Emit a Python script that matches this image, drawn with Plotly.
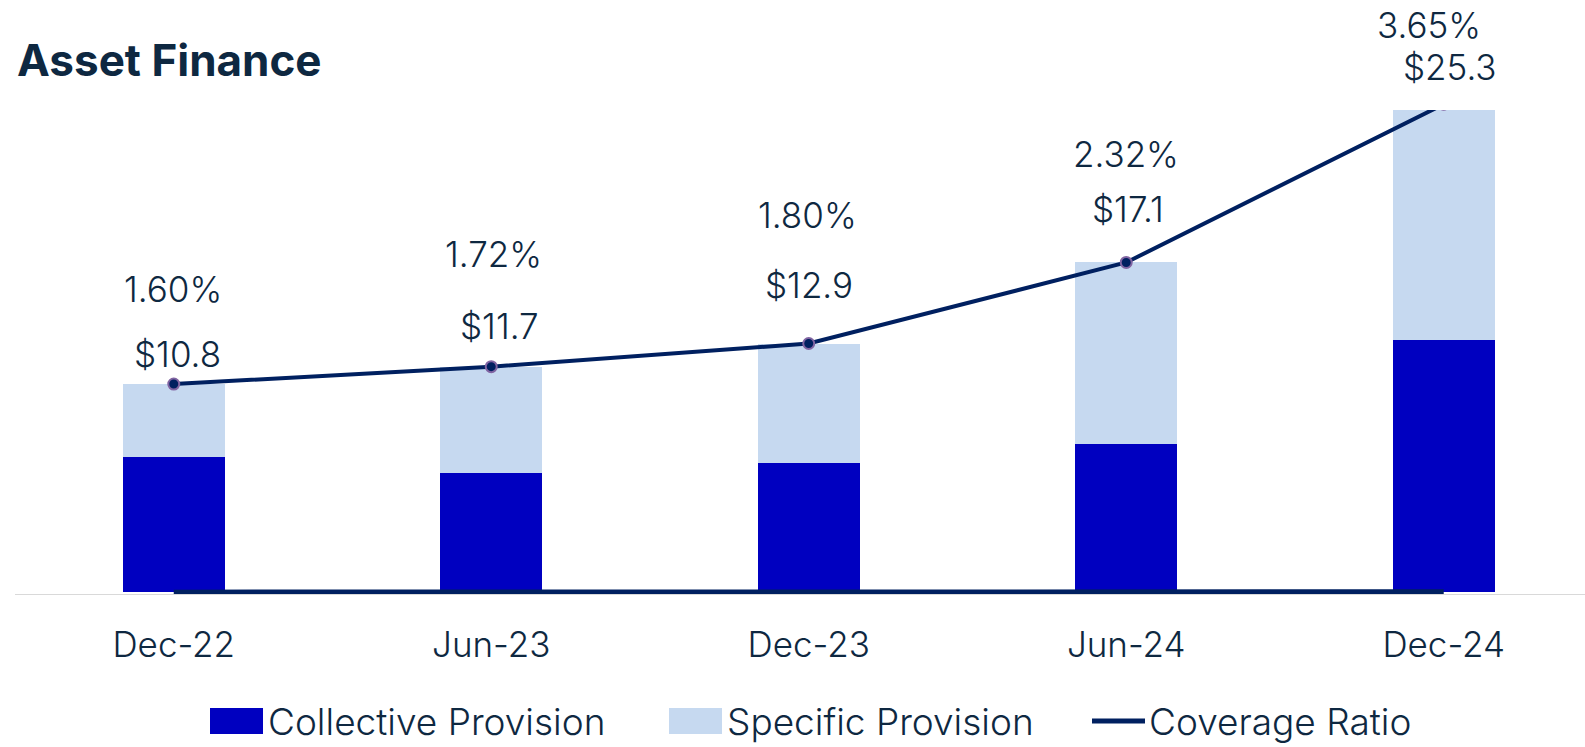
import plotly.graph_objects as go

categories = ["Dec-22", "Jun-23", "Dec-23", "Jun-24", "Dec-24"]
collective = [7.0, 6.2, 6.7, 7.7, 13.1]
specific = [3.8, 5.5, 6.2, 9.4, 12.2]
totals = [10.8, 11.7, 12.9, 17.1, 25.3]
coverage = [0.0160, 0.0172, 0.0180, 0.0232, 0.0365]
total_labels = ["$10.8", "$11.7", "$12.9", "$17.1", "$25.3"]
coverage_labels = ["1.60%", "1.72%", "1.80%", "2.32%", "3.65%"]

W, H = 1585, 747
ML, MR, MT, MB = 15, 0, 110, 153
PW, PH = W - ML - MR, H - MT - MB
YMIN, YMAX = -0.08, 25.0

DARK = "#0000C0"
LIGHT = "#C6D9F0"
NAVY = "#002060"
TEXT = "#0E2841"
FONT = "Inter"
FS = 35

fig = go.Figure()
fig.add_trace(go.Bar(x=categories, y=collective, name="Collective Provision",
                     marker=dict(color=DARK, line=dict(width=0)), showlegend=False))
fig.add_trace(go.Bar(x=categories, y=specific, name="Specific Provision",
                     marker=dict(color=LIGHT, line=dict(width=0)), showlegend=False))
fig.add_trace(go.Scatter(x=categories, y=totals, mode="lines+markers", showlegend=False,
                         line=dict(color=NAVY, width=4),
                         marker=dict(size=11, color=NAVY, line=dict(color="#8064A2", width=2))))
fig.add_trace(go.Scatter(x=categories, y=coverage, mode="lines", name="Coverage Ratio",
                         showlegend=False, line=dict(color=NAVY, width=5)))

# label offsets (pixels)
d_yshift = [30, 41, 59, 53, 37]
d_xshift = [4, 8, 0, 2, 6]
p_yshift = [95, 113, 129, 108, 79]
p_xshift = [-1, 2, -1, 0, -15]

lab_font = dict(size=FS, color=TEXT, family=FONT, weight=300)
leg_font = dict(size=37, color=TEXT, family=FONT, weight=300)

def yval_to_paper(v):
    return (v - YMIN) / (YMAX - YMIN)

ann = []
for i, c in enumerate(categories):
    yp = yval_to_paper(totals[i])
    ann.append(dict(x=c, y=yp, xref="x", yref="paper", yanchor="middle", xanchor="center",
                    text=total_labels[i], showarrow=False,
                    xshift=d_xshift[i], yshift=d_yshift[i], font=lab_font))
    ann.append(dict(x=c, y=yp, xref="x", yref="paper", yanchor="middle", xanchor="center",
                    text=coverage_labels[i], showarrow=False,
                    xshift=p_xshift[i], yshift=p_yshift[i], font=lab_font))

def px(x):
    return (x - ML) / PW

def py(y):
    return (H - MB - y) / PH

ann.append(dict(x=px(15), y=py(60), xref="paper", yref="paper", xanchor="left", yanchor="middle",
                text="<b>Asset Finance</b>", showarrow=False,
                font=dict(size=44, color=TEXT, family=FONT)))

shapes = []
legend_items = [
    ("rect", DARK, 210, 263, "Collective Provision", 266),
    ("rect", LIGHT, 669, 722, "Specific Provision", 725),
    ("line", NAVY, 1092, 1145, "Coverage Ratio", 1147),
]
for kind, col, x0, x1, label, tx in legend_items:
    if kind == "rect":
        shapes.append(dict(type="rect", xref="paper", yref="paper", x0=px(x0), x1=px(x1),
                           y0=py(734), y1=py(708), fillcolor=col, line=dict(width=0)))
    else:
        shapes.append(dict(type="line", xref="paper", yref="paper", x0=px(x0), x1=px(x1),
                           y0=py(721), y1=py(721), line=dict(color=col, width=5)))
    ann.append(dict(x=px(tx), y=py(721), xref="paper", yref="paper", xanchor="left", yanchor="middle",
                    text=label, showarrow=False, font=leg_font))

fig.update_layout(
    width=W, height=H, barmode="stack", bargap=0.68,
    margin=dict(l=ML, r=MR, t=MT, b=MB, pad=0),
    plot_bgcolor="white", paper_bgcolor="white",
    showlegend=False, annotations=ann, shapes=shapes,
    font=dict(family=FONT, color=TEXT),
)
fig.update_xaxes(range=[-0.5, 4.445], showline=True, linecolor="#D9D9D9", linewidth=1,
                 showgrid=False, ticks="outside", ticklen=20, tickcolor="rgba(0,0,0,0)",
                 tickfont=lab_font)
fig.update_yaxes(range=[YMIN, YMAX], visible=False, showgrid=False)

fig.write_html("out.html", config={"displayModeBar": False},
               post_script="document.body.style.margin='0';")
